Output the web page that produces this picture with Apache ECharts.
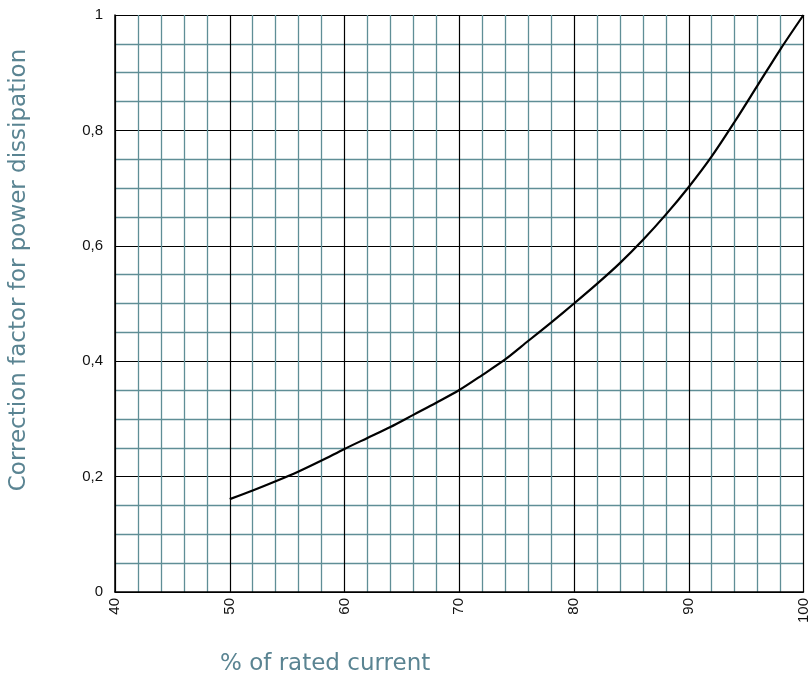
<!DOCTYPE html>
<html>
<head>
<meta charset="utf-8">
<script src="https://cdn.jsdelivr.net/npm/echarts@6/dist/echarts.min.js"></script>
<style>html,body{margin:0;padding:0;background:#fff}#c{width:811px;height:679px}</style>
</head>
<body>
<div id="c"></div>
<script>
var xValues = [50, 52, 54, 56, 58, 60, 62, 64, 66, 68, 70, 72, 74, 76, 78, 80, 82, 84, 86, 88, 90, 92, 94, 96, 98, 100];
var yValues = [0.161, 0.176, 0.192, 0.209, 0.228, 0.248, 0.267, 0.286, 0.307, 0.328, 0.350, 0.376, 0.403, 0.435, 0.467, 0.500, 0.534, 0.570, 0.610, 0.654, 0.702, 0.755, 0.815, 0.878, 0.941, 1.0];
var xTitle = '% of rated current';
var yTitle = 'Correction factor for power dissipation';

var points = xValues.map(function (x, i) { return [x, yValues[i]]; });
var fmt = function (v) { return String(Math.round(v * 100) / 100).replace('.', ','); };
var chart = echarts.init(document.getElementById('c'));
chart.setOption({
  animation: false,
  grid: { left: 115, right: 3, top: 15, bottom: 87 },
  xAxis: {
    type: 'value', min: 40, max: 100, interval: 10,
    axisLine: { show: true, lineStyle: { color: '#000', width: 1.5 } },
    axisTick: { show: false },
    axisLabel: { rotate: 90, color: '#111', fontSize: 15, fontFamily: 'Liberation Sans, Arial, sans-serif', margin: 6 },
    splitLine: { show: true, lineStyle: { color: '#000', width: 1.2 } },
    minorTick: { show: false, splitNumber: 5 },
    minorSplitLine: { show: true, lineStyle: { color: '#5f8e96', width: 1.3 } }
  },
  yAxis: {
    type: 'value', min: 0, max: 1, interval: 0.2,
    axisLine: { show: true, lineStyle: { color: '#000', width: 1.5 } },
    axisTick: { show: false },
    axisLabel: { color: '#111', fontSize: 15, fontFamily: 'Liberation Sans, Arial, sans-serif', margin: 12, formatter: fmt },
    splitLine: { show: true, lineStyle: { color: '#000', width: 1.2 } },
    minorTick: { show: false, splitNumber: 4 },
    minorSplitLine: { show: true, lineStyle: { color: '#5f8e96', width: 1.3 } }
  },
  series: [{
    type: 'line', data: points, smooth: 0.3, showSymbol: false,
    lineStyle: { color: '#000', width: 2.2 }, z: 5
  }],
  graphic: [
    { type: 'text', left: 220, top: 653, style: { text: xTitle, fill: '#5a8492', font: '23px "DejaVu Sans", sans-serif' } },
    { type: 'text', x: 8, y: 270, rotation: Math.PI / 2, style: { text: yTitle, fill: '#5a8492', font: '23px "DejaVu Sans", sans-serif', align: 'center', verticalAlign: 'top' } }
  ]
});
</script>
</body>
</html>
